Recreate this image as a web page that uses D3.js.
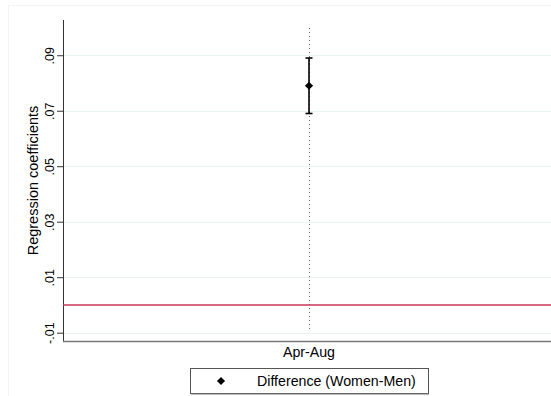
<!DOCTYPE html>
<html>
<head>
<meta charset="utf-8">
<script src="https://cdn.jsdelivr.net/npm/d3@7"></script>
<style>
  body { margin: 0; background: #fff; }
  svg { display: block; font-family: "Liberation Sans", Arial, sans-serif; }
</style>
</head>
<body>
<svg id="chart" width="551" height="396"></svg>
<script>
// Estimate with 95% confidence interval
const categories = ["Apr-Aug"];
const estimates = [0.079];
const ciLower = [0.069];
const ciUpper = [0.089];
const yTicks = [-0.01, 0.01, 0.03, 0.05, 0.07, 0.09];
const yTickLabels = ["-.01", ".01", ".03", ".05", ".07", ".09"];
const seriesName = "Difference (Women-Men)";
const referenceValue = [0];

const svg = d3.select("#chart");
const W = 551, H = 396;
const plot = { left: 63, right: 555, top: 20, bottom: 341 };

// outer graph region
svg.append("rect").attr("x", 8.5).attr("y", 5.5).attr("width", W).attr("height", H)
  .attr("fill", "#fff").attr("stroke", "#f2f4f5").attr("stroke-width", 1);

const y = d3.scaleLinear().domain([-0.013, 0.1027]).range([plot.bottom, plot.top]);
const x = d3.scalePoint().domain(categories).range([plot.left, plot.right]).padding(0.5);

// horizontal grid lines
svg.append("g").selectAll("line").data(yTicks).join("line")
  .attr("x1", plot.left).attr("x2", plot.right)
  .attr("y1", d => Math.round(y(d)) + 0.5).attr("y2", d => Math.round(y(d)) + 0.5)
  .attr("stroke", "#eaf1f3").attr("stroke-width", 1);

// y axis
const yAxis = d3.axisLeft(y).tickValues(yTicks)
  .tickFormat((d, i) => yTickLabels[i]).tickSize(6);
const gy = svg.append("g").attr("transform", `translate(${plot.left},0)`).call(yAxis);
gy.select(".domain").attr("stroke", "#333").attr("d", `M0.5,${plot.top}V${plot.bottom}`);
gy.selectAll(".tick line").attr("stroke", "#333");
gy.selectAll(".tick text")
  .attr("font-size", 12.5).attr("fill", "#000")
  .attr("font-family", "Liberation Sans, Arial, sans-serif")
  .attr("transform", "rotate(-90)")
  .attr("x", 0).attr("y", -9.5).attr("dy", 0)
  .attr("text-anchor", "middle");

// y axis title
svg.append("text")
  .attr("transform", `translate(38,${(plot.top + plot.bottom) / 2}) rotate(-90)`)
  .attr("text-anchor", "middle").attr("font-size", 14.5).attr("fill", "#000")
  .text("Regression coefficients");

// x axis
const gx = svg.append("g").attr("transform", `translate(0,${plot.bottom})`);
gx.append("line").attr("x1", plot.left).attr("x2", plot.right)
  .attr("y1", 0.5).attr("y2", 0.5).attr("stroke", "#777").attr("stroke-width", 1.5);
gx.selectAll("text").data(categories).join("text")
  .attr("x", d => x(d)).attr("y", 16)
  .attr("text-anchor", "middle").attr("font-size", 14.2).attr("fill", "#000")
  .text(d => d);

// vertical dotted guide at each category
svg.append("g").selectAll("line").data(categories).join("line")
  .attr("x1", d => x(d) + 0.5).attr("x2", d => x(d) + 0.5)
  .attr("y1", y(0.0998)).attr("y2", y(-0.0095))
  .attr("stroke", "#666").attr("stroke-width", 1).attr("stroke-dasharray", "1,3");

// reference line at zero
svg.append("g").selectAll("line").data(referenceValue).join("line")
  .attr("x1", plot.left).attr("x2", plot.right)
  .attr("y1", d => y(d)).attr("y2", d => y(d))
  .attr("stroke", "#c8385a").attr("stroke-width", 1.5);

// confidence intervals
const ci = svg.append("g");
categories.forEach((c, i) => {
  const cx = x(c);
  ci.append("line").attr("x1", cx).attr("x2", cx)
    .attr("y1", y(ciUpper[i])).attr("y2", y(ciLower[i]))
    .attr("stroke", "#000").attr("stroke-width", 1.6);
  [ciUpper[i], ciLower[i]].forEach(v => {
    ci.append("line").attr("x1", cx - 3.5).attr("x2", cx + 3.5)
      .attr("y1", y(v)).attr("y2", y(v))
      .attr("stroke", "#000").attr("stroke-width", 1.6);
  });
});

// point estimates
const diamond = d3.symbol().type(d3.symbolDiamond2).size(42);
svg.append("g").selectAll("path").data(estimates).join("path")
  .attr("d", diamond)
  .attr("transform", (d, i) => `translate(${x(categories[i])},${y(d)})`)
  .attr("fill", "#000");

// legend
const lg = svg.append("g");
lg.append("rect").attr("x", 190.5).attr("y", 368.5).attr("width", 238).attr("height", 25)
  .attr("fill", "#fff").attr("stroke", "#555").attr("stroke-width", 1);
lg.append("line").attr("x1", 191).attr("x2", 429).attr("y1", 394).attr("y2", 394)
  .attr("stroke", "#777").attr("stroke-width", 1);
lg.append("path").attr("d", diamond)
  .attr("transform", "translate(221,381)").attr("fill", "#000");
lg.append("text").attr("x", 257).attr("y", 385.5).attr("font-size", 14.2).attr("fill", "#000")
  .text(seriesName);
</script>
</body>
</html>
